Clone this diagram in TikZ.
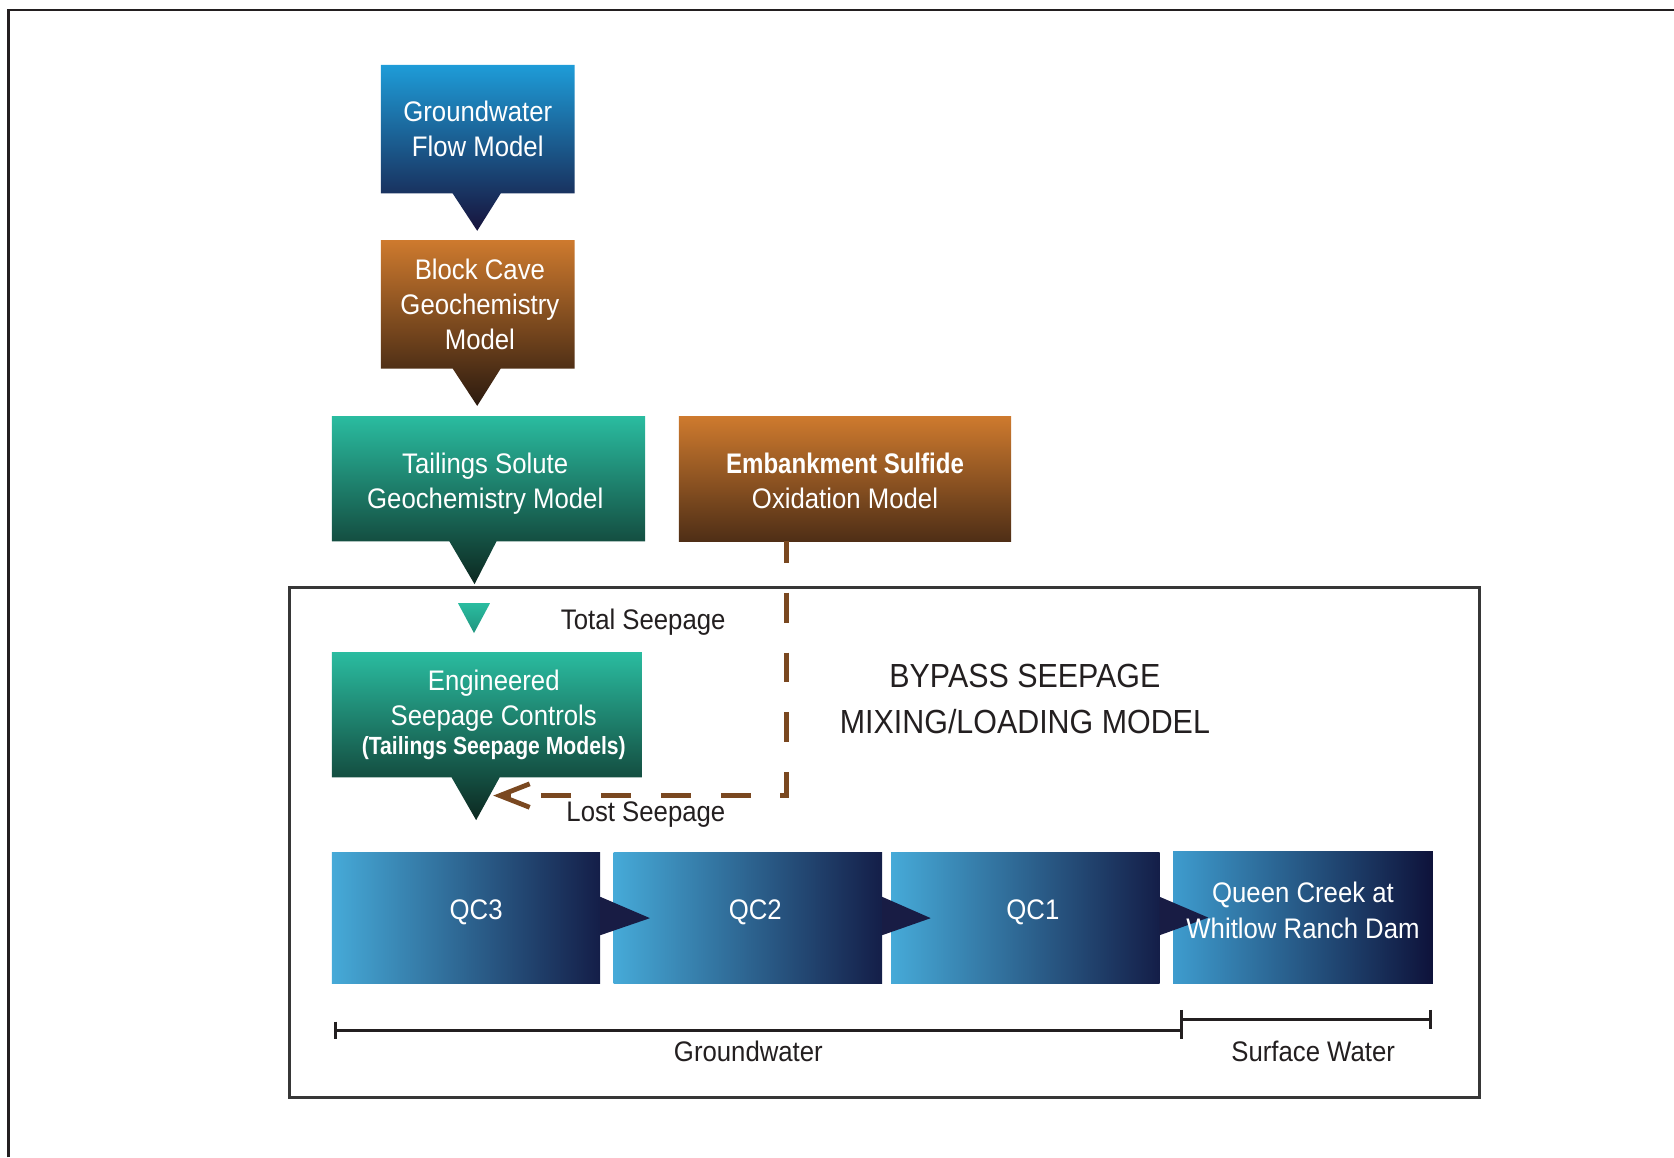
\documentclass[tikz,border=0pt]{standalone}
\usepackage{fontspec}
\setmainfont{Liberation Sans}[FakeStretch=0.91]
\newfontfamily\bmf{Liberation Sans}[FakeStretch=0.85]
\usetikzlibrary{calc,backgrounds,arrows.meta}
\definecolor{blueT}{RGB}{30,156,216}
\definecolor{blueB}{RGB}{23,19,60}
\definecolor{brT}{RGB}{206,122,46}
\definecolor{brB}{RGB}{43,26,15}
\definecolor{brE}{RGB}{78,46,22}
\definecolor{tlT}{RGB}{42,188,160}
\definecolor{tlB}{RGB}{12,40,32}
\definecolor{tlS}{RGB}{32,148,126}
\definecolor{qcL}{RGB}{70,170,216}
\definecolor{qcR}{RGB}{20,30,72}
\definecolor{qcA}{RGB}{24,28,68}
\definecolor{ink}{RGB}{35,31,32}
\definecolor{frm}{RGB}{55,55,55}
\definecolor{lostc}{RGB}{122,72,32}
\begin{document}
\begin{tikzpicture}[x=1pt,y=-1pt,
  boxtext/.style={text=white, align=center, inner sep=0pt, font=\fontsize{26.5}{33}\selectfont},
  qcbox/.style={boxtext, minimum width=251pt, minimum height=122pt, text depth=16pt},
  lbl/.style={text=ink, inner sep=0pt, font=\fontsize{26.5}{33}\selectfont},
  barline/.style={ink, line width=2.8pt},
  lostline/.style={lostc, line width=4.5pt, dash pattern=on 28pt off 28pt, dash phase=8pt,
     -{Straight Barb[length=28pt,width=22pt,line width=4.5pt]}}
]
\useasboundingbox (0,0) rectangle (1568,1084);

% text nodes
\node[boxtext, minimum width=181pt, minimum height=120pt] (gw) at (447.5,121) {Groundwater\\Flow Model};
\node[boxtext, minimum width=181pt, minimum height=120pt] (bc) at (447.5,285)
  {\hspace*{4pt}Block Cave\\\hspace*{4pt}Geochemistry\\\hspace*{4pt}Model};
\node[boxtext, minimum width=293pt, minimum height=117pt] (ts) at (457.5,448.5)
  {\rule{0pt}{28pt}\hspace*{-6pt}Tailings Solute\\\hspace*{-6pt}Geochemistry Model};
\node[boxtext, minimum width=311pt, minimum height=117pt] (es) at (791.5,448.5)
  {\rule{0pt}{23.5pt}{\bmf\bfseries Embankment Sulfide}\\Oxidation Model};
\node[boxtext, minimum width=290pt, minimum height=117pt] (ec) at (456,669.5)
  {\hspace*{13pt}Engineered\\\hspace*{13pt}Seepage Controls\\[-6pt]{\bmf\bfseries\fontsize{23.3}{27}\selectfont \hspace*{13pt}(Tailings Seepage Models)}};

\node[lbl] (tsl) at (602.5,583) {Total Seepage};
\node[lbl] (lsl) at (605,763) {Lost Seepage};
\node[text=ink, align=center, inner sep=0pt, font=\fontsize{31.3}{43}\selectfont] (bp) at (960,654.5) {BYPASS SEEPAGE\\MIXING/LOADING MODEL};

\node[qcbox] (qc3) at (436.5,860) {\hspace*{19pt}QC3};
\node[qcbox] (qc2) at (700.5,860) {\hspace*{14pt}QC2};
\node[qcbox] (qc1) at (960.5,860) {\hspace*{14pt}QC1};
\node[boxtext, minimum width=243pt, minimum height=123pt, text depth=14pt] (qcr) at (1220.5,859.5) {Queen Creek at\\Whitlow Ranch Dam};

\node[lbl] (gwl) at (701,985) {Groundwater};
\node[lbl] (swl) at (1230,985) {Surface Water};

\coordinate (lostend) at ($(ec.south)+(6,17)$);
\coordinate (g1) at (314,965);
\coordinate (g2) at (1107,965);
\coordinate (s1) at (1107,955);
\coordinate (s2) at (1340,955);

\begin{pgfonlayer}{background}
  % frames
  \draw[ink, line width=2pt] (8,1084) -- (8,9.5) -- (1568,9.5);
  \draw[frm, line width=2.5pt] (271,550) rectangle (1386,1028);
  % callouts
  \path[top color=blueT, bottom color=blueB]
    (gw.north west) -- (gw.north east) -- (gw.south east) -- ($(gw.south)+(21.5,0)$)
    -- ($(gw.south)+(-0.5,35)$) -- ($(gw.south)+(-23.5,0)$) -- (gw.south west) -- cycle;
  \path[top color=brT, bottom color=brB]
    (bc.north west) -- (bc.north east) -- (bc.south east) -- ($(bc.south)+(21.5,0)$)
    -- ($(bc.south)+(-0.5,35)$) -- ($(bc.south)+(-23.5,0)$) -- (bc.south west) -- cycle;
  \path[top color=tlT, bottom color=tlB]
    (ts.north west) -- (ts.north east) -- (ts.south east) -- ($(ts.south)+(7.5,0)$)
    -- ($(ts.south)+(-13,40)$) -- ($(ts.south)+(-36.5,0)$) -- (ts.south west) -- cycle;
  \path[top color=brT, bottom color=brE] (es.north west) rectangle (es.south east);
  \path[top color=tlT, bottom color=tlB]
    (ec.north west) -- (ec.north east) -- (ec.south east) -- ($(ec.south)+(12,0)$)
    -- ($(ec.south)+(-10,40)$) -- ($(ec.south)+(-33,0)$) -- (ec.south west) -- cycle;
  % total seepage marker
  \path[top color=tlT, bottom color=tlS] (429,565) -- (459,565) -- (444,593) -- cycle;
  % QC boxes
  \path[left color=qcL, right color=qcR] (qc3.north west) rectangle (qc3.south east);
  \path[left color=qcL, right color=qcR] (qc2.north west) rectangle (qc2.south east);
  \path[left color=qcL, right color=qcR] (qc1.north west) rectangle (qc1.south east);
  \path[left color={rgb,255:red,62;green,156;blue,206}, right color={rgb,255:red,14;green,18;blue,58}] (qcr.north west) rectangle (qcr.south east);
  % flow arrows
  \fill[qcA] ($(qc3.east)+(0,-20)$) -- ($(qc2.west)+(34,0)$) -- ($(qc3.east)+(0,16)$) -- cycle;
  \fill[qcA] ($(qc2.east)+(0,-20)$) -- ($(qc1.west)+(37,0)$) -- ($(qc2.east)+(0,16)$) -- cycle;
  \fill[qcA] ($(qc1.east)+(0,-20)$) -- ($(qcr.west)+(33,0)$) -- ($(qc1.east)+(0,16)$) -- cycle;
\end{pgfonlayer}

% lost seepage connector
\draw[lostline] ($(es.south)+(-54.5,0)$) |- (lostend);

% scale bars
\draw[barline] (314,957) -- (314,973);
\draw[barline] (g1) -- (g2);
\draw[barline] (1107,946) -- (1107,973);
\draw[barline] (s1) -- (s2);
\draw[barline] (1340,946) -- (1340,964);
\end{tikzpicture}
\end{document}
